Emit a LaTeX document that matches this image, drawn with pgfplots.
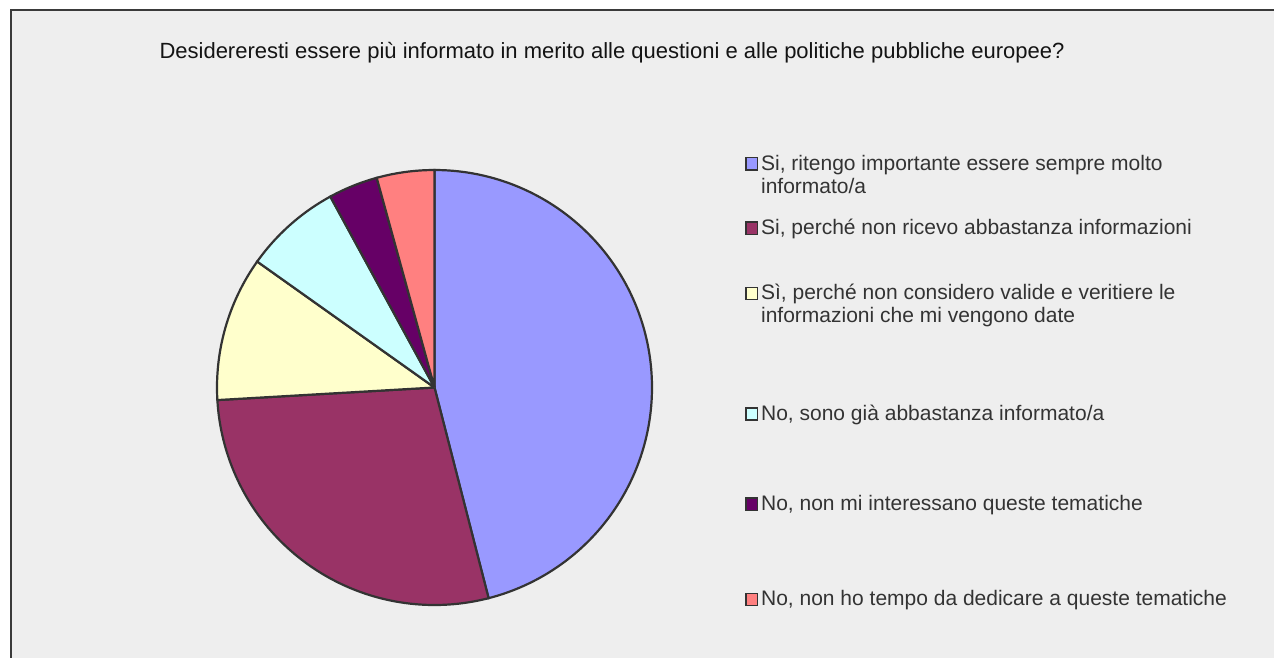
\documentclass[border=0pt]{standalone}
\usepackage{pgfplots}
\pgfplotsset{compat=1.18}
\usepackage{fontspec}
\setmainfont{Liberation Sans}
\definecolor{bgc}{HTML}{EEEEEE}
\definecolor{framec}{HTML}{3A3A3A}
\definecolor{edge}{HTML}{333333}
\definecolor{txt}{HTML}{333333}
\definecolor{ttl}{HTML}{141414}
\definecolor{c1}{HTML}{9999FF}
\definecolor{c2}{HTML}{993366}
\definecolor{c3}{HTML}{FFFFCC}
\definecolor{c4}{HTML}{CCFFFF}
\definecolor{c5}{HTML}{660066}
\definecolor{c6}{HTML}{FF8080}
% shares (percent)
\def\va{46.00}\def\vb{28.08}\def\vc{10.75}\def\vd{7.22}\def\ve{3.67}\def\vf{4.28}
\pgfmathsetmacro\aA{90}
\pgfmathsetmacro\aB{\aA-3.6*\va}
\pgfmathsetmacro\aC{\aB-3.6*\vb}
\pgfmathsetmacro\aD{\aC-3.6*\vc}
\pgfmathsetmacro\aE{\aD-3.6*\vd}
\pgfmathsetmacro\aF{\aE-3.6*\ve}
\pgfmathsetmacro\aG{\aF-3.6*\vf}
% legend text with a strut of given height (sets the distance from the previous entry)
\newcommand{\lt}[2]{\rule{0pt}{#1pt}#2}
% wedge between angles #1 (low) and #2 (high): endpoints of the sweep go to the centre
\newcommand{\pieslice}[3]{%
  \pgfmathsetmacro\plo{#1-1}\pgfmathsetmacro\phi{#2+1}%
  \pgfmathsetmacro\pla{#1-0.5}\pgfmathsetmacro\pha{#2+0.5}%
  \addplot[fill=#3, draw=edge, line width=2.2pt, domain=\plo:\phi, samples=200]
    ({ifthenelse(x<\pla || x>\pha, 0, cos(min(max(x,#1),#2)))},
     {ifthenelse(x<\pla || x>\pha, 0, sin(min(max(x,#1),#2)))});}
\begin{document}
\begin{tikzpicture}
\clip (0pt,0pt) rectangle (1274pt,-657pt);
\fill[white] (0pt,0pt) rectangle (1274pt,-657pt);
\fill[bgc] (10.5pt,-9.5pt) rectangle (1300pt,-700pt);
\draw[framec,line width=2pt] (10.5pt,-700pt) -- (10.5pt,-9.5pt) -- (1300pt,-9.5pt);
\node[text=ttl,font=\fontsize{22}{26}\selectfont,anchor=base,inner sep=0pt] at (612pt,-58pt) {Desidereresti essere più informato in merito alle questioni e alle politiche pubbliche europee?};
\begin{axis}[at={(434.5pt,-387.5pt)}, anchor=center, scale only axis,
  width=435pt, height=435pt, xmin=-1, xmax=1, ymin=-1, ymax=1,
  hide axis, clip=false,
  legend image code/.code={\draw[#1,line width=1.5pt] (0.8pt,0.3pt) rectangle (12.2pt,12.5pt);},
  legend style={at={(axis description cs:1.2138,1.0368)}, anchor=north west,
    draw=none, fill=none, inner sep=0pt, column sep=0pt, row sep=0pt,
    font=\fontsize{21}{23}\selectfont, text=txt,
    cells={anchor=base west},
    nodes={inner xsep=3pt, inner ysep=0pt, text=txt}},
  ]
\pieslice{\aB}{\aA}{c1}
\addlegendentry{\lt{16}{\parbox[t]{460pt}{Si, ritengo importante essere sempre molto\\informato/a}}}
\pieslice{\aC}{\aB}{c2}
\addlegendentry{\lt{62.85}{Si, perché non ricevo abbastanza informazioni}}
\pieslice{\aD}{\aC}{c3}
\addlegendentry{\lt{63.85}{\parbox[t]{460pt}{Sì, perché non considero valide e veritiere le\\informazioni che mi vengono date}}}
\pieslice{\aE}{\aD}{c4}
\addlegendentry{\lt{118.85}{No, sono già abbastanza informato/a}}
\pieslice{\aF}{\aE}{c5}
\addlegendentry{\lt{88.85}{No, non mi interessano queste tematiche}}
\pieslice{\aG}{\aF}{c6}
\addlegendentry{\lt{93.85}{No, non ho tempo da dedicare a queste tematiche}}
\end{axis}
\end{tikzpicture}
\end{document}
